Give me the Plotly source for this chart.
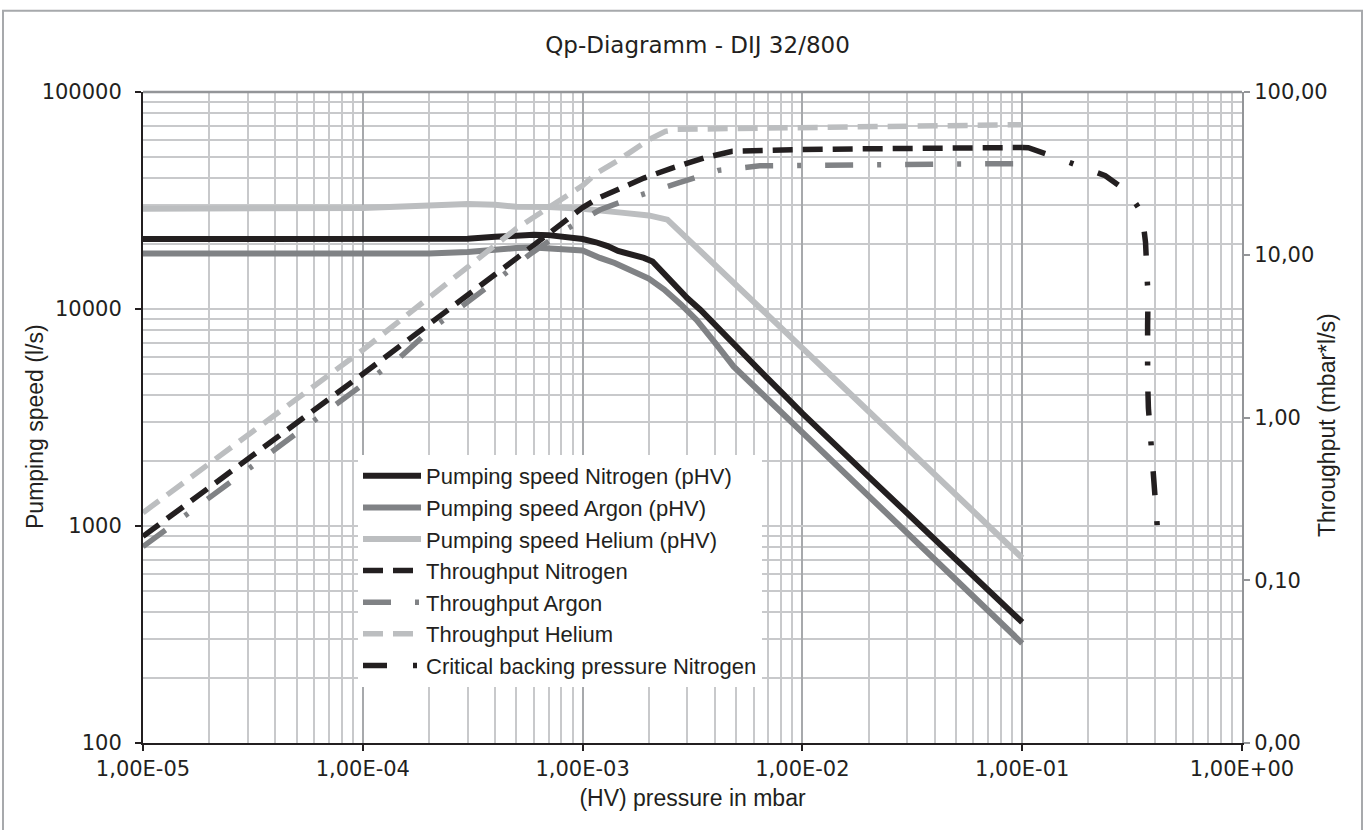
import plotly.graph_objects as go

# ---------------- data ----------------
# Pumping speeds (l/s) vs HV pressure (mbar)
p_n2_speed = [1e-5, 1e-4, 2e-4, 3e-4, 4e-4, 5e-4, 6e-4, 7e-4, 8e-4, 1e-3, 1.15e-3, 1.3e-3,
              1.45e-3, 1.65e-3, 1.9e-3, 2.08e-3, 2.5e-3, 3e-3, 3.43e-3, 4e-3, 5e-3, 6e-3,
              7e-3, 8e-3, 1e-2, 2e-2, 5e-2, 1e-1]
s_n2 = [21000, 21000, 21000, 21100, 21500, 21900, 22000, 21900, 21600, 21000, 20300, 19500,
        18500, 17900, 17200, 16560, 13600, 11200, 9926, 8430, 6800, 5600,
        4750, 4150, 3300, 1690, 700, 360]

p_ar_speed = [1e-5, 1e-4, 2e-4, 3e-4, 4e-4, 5e-4, 6e-4, 7e-4, 8e-4, 1e-3, 1.2e-3, 1.4e-3,
              2e-3, 2.35e-3, 2.8e-3, 3.3e-3, 4e-3, 4.86e-3, 6e-3, 8e-3, 1e-2, 2e-2, 5e-2, 1e-1]
s_ar = [18000, 18000, 18000, 18300, 18800, 19100, 19200, 19000, 18800, 18600, 17200, 16300,
        13800, 12300, 10500, 8900, 7000, 5440, 4430, 3350, 2740, 1400, 570, 288]

p_he_speed = [1e-5, 1e-4, 2e-4, 3e-4, 4e-4, 5e-4, 7e-4, 1e-3, 1.5e-3, 2e-3, 2.43e-3, 3e-3,
              4e-3, 5e-3, 7e-3, 1e-2, 2e-2, 5e-2, 1e-1]
s_he = [29000, 29200, 30000, 30500, 30200, 29600, 29500, 29000, 27800, 27000, 25800, 21000,
        16000, 12900, 9300, 6600, 3380, 1400, 712]

# Throughput (mbar*l/s) vs HV pressure (mbar)
p_n2_q = [1e-5, 1e-4, 5e-4, 1e-3, 1.18e-3, 1.9e-3, 2.55e-3, 3.55e-3, 4.8e-3, 6.4e-3, 1e-2,
          2e-2, 5e-2, 1e-1]
q_n2 = [0.186, 1.85, 9.5, 19.5, 22.3, 29.6, 34.1, 39.3, 43.2, 43.8, 44.3, 44.8, 45.3, 45.6]

p_ar_q = [1e-5, 1e-4, 1.48e-4, 2.03e-4, 2.87e-4, 4.08e-4, 5.78e-4, 8.25e-4, 1.2e-3, 1.8e-3,
          2.73e-3, 4.16e-3, 6.4e-3, 1e-2, 2e-2, 5e-2, 1e-1]
q_ar = [0.161, 1.6, 2.35, 3.46, 4.88, 7.0, 10.1, 14.1, 18.9, 23.1, 27.6, 33.0, 35.2, 35.5,
        35.8, 36.1, 36.3]

p_he_q = [1e-5, 1e-4, 5e-4, 1e-3, 1.16e-3, 1.43e-3, 2e-3, 2.38e-3, 2.7e-3, 5e-3, 1e-2, 2e-2,
          5e-2, 1e-1]
q_he = [0.26, 2.6, 14.5, 26.6, 31.8, 37.5, 50.9, 57.3, 59.0, 59.5, 60.0, 61.0, 62.0, 63.0]

# Critical backing pressure Nitrogen (backing pressure in mbar, throughput)
p_crit = [0.1, 0.1066, 0.1385, 0.180, 0.2388, 0.3039, 0.3508, 0.364, 0.372, 0.3737, 0.372,
          0.369, 0.372, 0.3751, 0.3855, 0.392, 0.402, 0.4106, 0.4176]
q_crit = [45.6, 45.5, 40.2, 35.4, 30.6, 24.2, 18.05, 11.9, 7.03, 5.55, 3.68,
          2.373, 1.707, 1.144, 0.731, 0.537, 0.355, 0.2355, 0.1654]

x_tickvals = [1e-5, 1e-4, 1e-3, 1e-2, 1e-1, 1e0]
x_ticktext = ["1,00E-05", "1,00E-04", "1,00E-03", "1,00E-02", "1,00E-01", "1,00E+00"]
y_tickvals = [100, 1000, 10000, 100000]
y_ticktext = ["100", "1000", "10000", "100000"]
y2_tickvals = [0.01, 0.1, 1, 10, 100]
y2_ticktext = ["0,00", "0,10", "1,00", "10,00", "100,00"]

title_text = "Qp-Diagramm - DIJ 32/800"
x_title = "(HV) pressure in mbar"
y_title = "Pumping speed (l/s)"
y2_title = "Throughput (mbar*l/s)"

# ---------------- styling ----------------
BLACK = "#231f20"
MID = "#808285"
LIGHT = "#bcbec0"
GRID = "#c8c9cb"
GRID_MAJOR = "#a7a9ac"
TEXT = "#231f20"
TICK_FONT = dict(family="DejaVu Sans", size=21, color=TEXT)
LAB_FONT = dict(family="Liberation Sans, Arial, sans-serif", size=23, color=TEXT)

W, H = 1371, 830
L, R, T, B = 143, 129, 92, 87
PW, PH = W - L - R, H - T - B


def px_x(px):
    return (px - L) / PW


def px_y(py):
    return (H - B - py) / PH


fig = go.Figure()
fig.add_trace(go.Scatter(x=p_n2_speed, y=s_n2, name="Pumping speed Nitrogen (pHV)",
                         mode="lines", line=dict(color=BLACK, width=6)))
fig.add_trace(go.Scatter(x=p_ar_speed, y=s_ar, name="Pumping speed Argon (pHV)",
                         mode="lines", line=dict(color=MID, width=6)))
fig.add_trace(go.Scatter(x=p_he_speed, y=s_he, name="Pumping speed Helium (pHV)",
                         mode="lines", line=dict(color=LIGHT, width=6)))
fig.add_trace(go.Scatter(x=p_n2_q, y=q_n2, name="Throughput Nitrogen", yaxis="y2",
                         mode="lines", line=dict(color=BLACK, width=5.5, dash="20px,10px")))
fig.add_trace(go.Scatter(x=p_ar_q, y=q_ar, name="Throughput Argon", yaxis="y2",
                         mode="lines", line=dict(color=MID, width=5.5,
                                                 dash="28px,24px,4px,24px")))
fig.add_trace(go.Scatter(x=p_he_q, y=q_he, name="Throughput Helium", yaxis="y2",
                         mode="lines", line=dict(color=LIGHT, width=5.5, dash="20px,10px")))
fig.add_trace(go.Scatter(x=p_crit, y=q_crit, name="Critical backing pressure Nitrogen",
                         yaxis="y2", mode="lines",
                         line=dict(color=BLACK, width=5.5, dash="24px,26px,4px,26px")))

minor_x = [k * 10.0 ** e for e in range(-5, 0) for k in range(2, 10)]
minor_y = [k * 10.0 ** e for e in range(2, 5) for k in range(2, 10)]

fig.update_layout(
    width=W, height=H,
    margin=dict(l=L, r=R, t=T, b=B),
    paper_bgcolor="white", plot_bgcolor="white",
    showlegend=True,
    title=dict(text=title_text, x=697.5 / W, xref="container", xanchor="center",
               y=1 - 45 / H, yref="container", yanchor="middle",
               font=dict(family="DejaVu Sans", size=23, color=TEXT)),
    xaxis=dict(type="log", range=[-5, 0], tickmode="array", tickvals=x_tickvals,
               ticktext=x_ticktext, tickfont=TICK_FONT, ticks="outside", ticklen=6,
               tickwidth=2, tickcolor=BLACK, showline=True, linecolor=BLACK, linewidth=2,
               showgrid=True, gridcolor=GRID_MAJOR, gridwidth=1.5, zeroline=False,
               minor=dict(tickmode="array", tickvals=minor_x, showgrid=True,
                          gridcolor=GRID, gridwidth=1.5, ticks=""),
               title=dict(text=x_title, font=LAB_FONT, standoff=10)),
    yaxis=dict(type="log", range=[2, 5], tickmode="array", tickvals=y_tickvals,
               ticktext=y_ticktext, tickfont=TICK_FONT, ticks="outside", ticklen=6,
               tickwidth=2, tickcolor=BLACK, showline=True, linecolor=BLACK, linewidth=2,
               showgrid=True, gridcolor=GRID, gridwidth=1.5, zeroline=False,
               ticklabelstandoff=9,
               minor=dict(tickmode="array", tickvals=minor_y, showgrid=True,
                          gridcolor=GRID, gridwidth=1.5, ticks="")),
    yaxis2=dict(type="log", range=[-2, 2], overlaying="y", side="right",
                tickmode="array", tickvals=y2_tickvals, ticktext=y2_ticktext,
                tickfont=TICK_FONT, ticks="outside", ticklen=6, tickwidth=2,
                tickcolor="#939598", showline=True, linecolor="#939598", linewidth=2,
                showgrid=False, zeroline=False),
    legend=dict(x=px_x(358), y=px_y(455), xanchor="left",
                yanchor="top", bgcolor="white", borderwidth=0,
                font=dict(family="Liberation Sans, Arial, sans-serif", size=22, color=TEXT),
                itemwidth=58, tracegroupgap=0),
    annotations=[
        dict(text=y_title, xref="paper", yref="paper", x=px_x(35), y=px_y(427),
             xanchor="center", yanchor="middle", textangle=-90, showarrow=False,
             font=LAB_FONT),
        dict(text=y2_title, xref="paper", yref="paper", x=px_x(1327), y=px_y(425),
             xanchor="center", yanchor="middle", textangle=-90, showarrow=False,
             font=LAB_FONT),
    ],
    shapes=[
        dict(type="line", xref="paper", yref="paper", x0=0, x1=1, y0=1, y1=1,
             line=dict(color="#939598", width=2.5)),
        dict(type="rect", xref="paper", yref="paper",
             x0=px_x(3), x1=px_x(1362), y0=px_y(845), y1=px_y(10.7),
             line=dict(color="#a7a9ac", width=2), layer="below"),
    ],
)

fig.write_html("out.html")
